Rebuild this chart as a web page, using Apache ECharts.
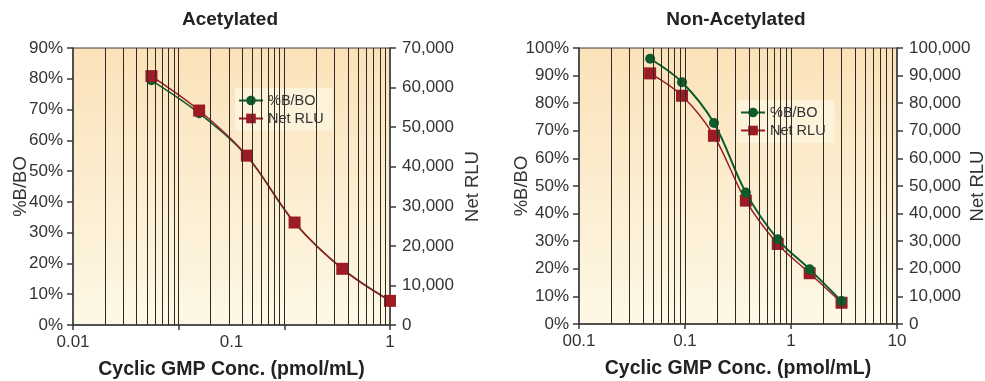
<!DOCTYPE html>
<html>
<head>
<meta charset="utf-8">
<script src="https://cdn.jsdelivr.net/npm/echarts@6/dist/echarts.min.js"></script>
<style>
html,body{margin:0;padding:0;background:#fff;}
#c{width:985px;height:381px;}
</style>
</head>
<body>
<div id="c"></div>
<script>
// ---- data ----
var acetConc = [0.03125, 0.0625, 0.125, 0.25, 0.5, 1];
var acetBBO  = [79.5, 68.8, 54.8, 33.2, 18.3, 7.9];
var acetRLU  = [62900, 54200, 42800, 25900, 14200, 6100];

var nonConc = [0.046875, 0.09375, 0.1875, 0.375, 0.75, 1.5, 3];
var nonBBO  = [96.1, 87.6, 72.8, 47.6, 30.7, 19.8, 8.3];
var nonRLU  = [90800, 82700, 68200, 44700, 29000, 18400, 7700];

var acetTickLabels = ['0.01', '0.1', '1'];
var nonTickLabels  = ['00.1', '0.1', '1', '10'];
var gridTickValues = [2,3,4,5,6,7,8,9,10,20,30,40,50,60,70,80,90,100,200,300,400,500,600,700,800,900];

var titles = ['Acetylated', 'Non-Acetylated'];
var seriesNames = ['%B/BO', 'Net RLU'];
var xName = 'Cyclic GMP Conc. (pmol/mL)';

// ---- styles ----
var FONT = "'Liberation Sans', Arial, Helvetica, sans-serif";
var GREEN = '#0c5c2c';
var RED = '#9c1b24';
var AXIS = '#3a3a3a';
var TXT = '#333333';

function zip(xs, ys){ return xs.map(function(x,i){ return [x, ys[i]]; }); }
function fmtThousands(v){ return v.toLocaleString('en-US'); }

var bg = {type:'linear', x:0, y:0, x2:0, y2:1,
  colorStops:[{offset:0, color:'#fbe2b9'},{offset:1, color:'#fdf8e6'}]};

function buildGrid(i, left, right, height){
  return {left:left, right:right, top:48, height:height, show:true,
    outerBoundsMode:'none', containLabel:false,
    backgroundColor:bg, borderColor:AXIS, borderWidth:1};
}

var chart = echarts.init(document.getElementById('c'));

function mainX(gi, min, max, labels){
  return {type:'log', logBase:10, gridIndex:gi, min:min, max:max, position:'bottom',
    name:xName, nameLocation:'middle', nameGap:35, nameMoveOverlap:false,
    nameTextStyle:{fontFamily:FONT, fontSize:19.5, fontWeight:'bold', color:'#222'},
    axisLine:{show:true, lineStyle:{color:AXIS, width:1.5}},
    axisTick:{show:false},
    splitLine:{show:false},
    axisLabel:{margin:9, fontFamily:FONT, fontSize:17, color:TXT,
      formatter:function(v){ var k = Math.round(Math.log10(v/min)); return labels[k]; }}
  };
}
function gridX(gi){
  return {type:'log', logBase:10, gridIndex:gi, min:1, max:1000, position:'bottom',
    axisLine:{show:false}, axisLabel:{show:false}, splitLine:{show:false},
    axisTick:{show:true, length:5, lineStyle:{color:AXIS, width:1.5}}};
}
function leftY(gi, max, gap){
  return {type:'value', gridIndex:gi, min:0, max:max, interval:10, position:'left',
    name:'%B/BO', nameLocation:'middle', nameGap:gap, nameMoveOverlap:false,
    nameTextStyle:{fontFamily:FONT, fontSize:18.5, color:TXT},
    axisLine:{show:true, lineStyle:{color:AXIS, width:1.5}},
    axisTick:{show:true, length:6, lineStyle:{color:AXIS, width:1.5}},
    splitLine:{show:false},
    axisLabel:{margin:10, fontFamily:FONT, fontSize:17, color:TXT, formatter:'{value}%'}};
}
function rightY(gi, max, gap){
  return {type:'value', gridIndex:gi, min:0, max:max, interval:10000, position:'right',
    name:'Net RLU', nameLocation:'middle', nameGap:gap, nameMoveOverlap:false,
    nameTextStyle:{fontFamily:FONT, fontSize:18.5, color:TXT},
    axisLine:{show:true, lineStyle:{color:AXIS, width:1.5}},
    axisTick:{show:true, length:6, lineStyle:{color:AXIS, width:1.5}},
    splitLine:{show:false},
    axisLabel:{margin:12, fontFamily:FONT, fontSize:17, color:TXT, formatter:fmtThousands}};
}

function gridSeries(xi, yi){
  return {type:'line', xAxisIndex:xi, yAxisIndex:yi, data:[], silent:true, z:1,
    markLine:{silent:true, symbol:['none','none'], animation:false,
      label:{show:false}, emphasis:{disabled:true},
      lineStyle:{color:'#2e2a26', width:1, type:'solid'},
      data: gridTickValues.map(function(v){ return {xAxis:v}; })}};
}

function greenSeries(xi, yi, data, z, lw){
  return {name:seriesNames[0], type:'line', xAxisIndex:xi, yAxisIndex:yi, data:data,
    smooth:0.35, z:z, symbol:'circle', symbolSize:10,
    lineStyle:{color:GREEN, width:lw}, itemStyle:{color:GREEN}};
}
function redSeries(xi, yi, data, z, lw){
  return {name:seriesNames[1], type:'line', xAxisIndex:xi, yAxisIndex:yi, data:data,
    smooth:0.35, z:z, symbol:'rect', symbolSize:12,
    lineStyle:{color:RED, width:lw}, itemStyle:{color:RED}};
}

function legend(left, top){
  return {orient:'vertical', left:left, top:top, data:seriesNames,
    backgroundColor:'#fdf3da', padding:[5,9,5,3], itemGap:3,
    itemWidth:24, itemHeight:12,
    textStyle:{fontFamily:FONT, fontSize:14.5, color:TXT}};
}

var option = {
  animation:false,
  textStyle:{fontFamily:FONT},
  title:[
    {text:titles[0], left:230, top:10, textAlign:'center', padding:0,
      textStyle:{fontFamily:FONT, fontSize:19, fontWeight:'bold', color:'#222'}},
    {text:titles[1], left:736, top:10, textAlign:'center', padding:0,
      textStyle:{fontFamily:FONT, fontSize:19, fontWeight:'bold', color:'#222'}}
  ],
  legend:[legend(235, 88), legend(737, 100)],
  grid:[buildGrid(0, 73, 595, 277), buildGrid(1, 579, 88, 276)],
  xAxis:[
    mainX(0, 0.01, 1, acetTickLabels),
    gridX(0),
    mainX(1, 0.01, 10, nonTickLabels),
    gridX(1)
  ],
  yAxis:[
    leftY(0, 90, 43),
    rightY(0, 70000, 73),
    leftY(1, 100, 48),
    rightY(1, 100000, 71)
  ],
  series:[
    gridSeries(1, 0),
    greenSeries(0, 0, zip(acetConc, acetBBO), 3, 1.5),
    redSeries(0, 1, zip(acetConc, acetRLU), 4, 1.5),
    gridSeries(3, 2),
    redSeries(2, 3, zip(nonConc, nonRLU), 3, 1.5),
    greenSeries(2, 2, zip(nonConc, nonBBO), 4, 2)
  ]
};
chart.setOption(option);
</script>
</body>
</html>
